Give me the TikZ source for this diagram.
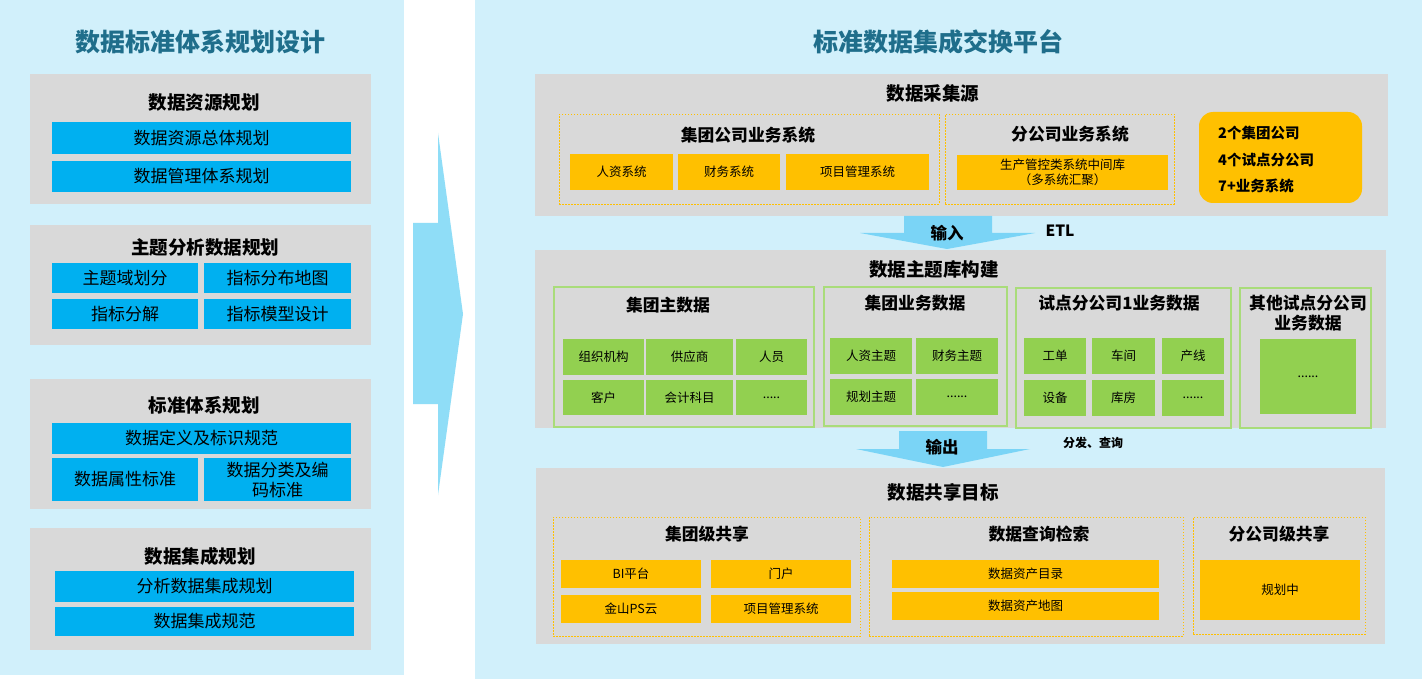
\documentclass[tikz,border=0pt]{standalone}
\usepackage{fontspec}
\setmainfont{Noto Sans CJK SC}
\definecolor{lbg}{HTML}{D1F0FB}
\definecolor{gry}{HTML}{D9D9D9}
\definecolor{bbar}{HTML}{00B0F0}
\definecolor{ylw}{HTML}{FFC000}
\definecolor{grn}{HTML}{92D050}
\definecolor{grnline}{HTML}{A9DC7A}
\definecolor{arr}{HTML}{7AD4F6}
\definecolor{bigarr}{HTML}{8FDDF7}
\definecolor{ttl}{HTML}{1F6E8B}
\newcommand\bx[7]{\node[#1, minimum width={(#5-#3)*1pt}, minimum height={(#6-#4)*1pt}] (#2) at ({(#3+#5)/2},{(#4+#6)/2}) {#7};}
\tikzset{
  cell/.style={inner sep=0pt, align=center, text=black},
  bluebar/.style={cell, fill=bbar, font=\fontsize{17}{20}\selectfont},
  ycell/.style={cell, fill=ylw, font=\fontsize{12.5}{15}\selectfont},
  gcell/.style={cell, fill=grn, font=\fontsize{12.5}{15}\selectfont},
  graybox/.style={cell, fill=gry},
  panelbox/.style={cell, fill=lbg},
  dbox/.style={cell, draw=ylw, dash pattern=on 1.5pt off 1.5pt, line width=0.8pt},
  gbox/.style={cell, draw=grnline, line width=1.2pt},
  secttitle/.style={font=\bfseries\fontsize{18.5}{22}\selectfont, inner sep=0pt, align=center},
  subtitle/.style={font=\bfseries\fontsize{16.8}{20}\selectfont, inner sep=0pt, align=center},
  bigtitle/.style={font=\bfseries\fontsize{25}{29}\selectfont, text=ttl, inner sep=0pt},
  arrowshape/.style={fill=arr, draw=none},
  stattext/.style={anchor=west, inner sep=0pt, font=\bfseries\fontsize{14.5}{17}\selectfont},
}
\begin{document}
\begin{tikzpicture}[x=1pt,y=-1pt]
\useasboundingbox (0,0) rectangle (1422,679);
\fill[white] (0,0) rectangle (1422,679);
% panels
\bx{panelbox}{leftpanel}{0}{0}{404}{675}{}
\bx{panelbox}{rightpanel}{475}{0}{1422}{679}{}
% big arrow
\fill[bigarr] (413,223) -- (438,223) -- (438,133) -- (463,314) -- (438,495) -- (438,404) -- (413,404) -- cycle;
% titles
\node[bigtitle] (ltitle) at (200,42) {数据标准体系规划设计};
\node[bigtitle] (rtitle) at (938,42) {标准数据集成交换平台};
% ---------- left ----------
\bx{graybox}{lb1}{30}{74}{371}{204}{}
\node[secttitle] (lb1t) at (204,103) {数据资源规划};
\bx{bluebar}{lb1a}{52}{122}{351}{154}{数据资源总体规划}
\bx{bluebar}{lb1b}{52}{161}{351}{192}{数据管理体系规划}

\bx{graybox}{lb2}{30}{225}{371}{345}{}
\node[secttitle] (lb2t) at (205,247) {主题分析数据规划};
\bx{bluebar}{lb2a}{52}{263}{198}{293}{主题域划分}
\bx{bluebar}{lb2b}{204}{263}{351}{293}{指标分布地图}
\bx{bluebar}{lb2c}{52}{299}{198}{329}{指标分解}
\bx{bluebar}{lb2d}{204}{299}{351}{329}{指标模型设计}

\bx{graybox}{lb3}{30}{379}{371}{509}{}
\node[secttitle] (lb3t) at (204,405) {标准体系规划};
\bx{bluebar}{lb3a}{52}{423}{351}{454}{数据定义及标识规范}
\bx{bluebar}{lb3b}{52}{458}{198}{501}{数据属性标准}
\bx{bluebar}{lb3c}{204}{458}{351}{501}{数据分类及编\\码标准}

\bx{graybox}{lb4}{30}{528}{371}{650}{}
\node[secttitle] (lb4t) at (200,556) {数据集成规划};
\bx{bluebar}{lb4a}{55}{571}{354}{602}{分析数据集成规划}
\bx{bluebar}{lb4b}{55}{607}{354}{636}{数据集成规范}
% ---------- right: section 1 ----------
\bx{graybox}{s1}{535}{74}{1388}{216}{}
\node[secttitle] (s1t) at (933,93) {数据采集源};
\bx{dbox}{s1a}{559}{114}{939}{204}{}
\node[subtitle] (s1at) at (748,135) {集团公司业务系统};
\bx{ycell}{s1a1}{570}{154}{673}{190}{人资系统}
\bx{ycell}{s1a2}{678}{154}{780}{190}{财务系统}
\bx{ycell}{s1a3}{786}{154}{929}{190}{项目管理系统}
\bx{dbox}{s1b}{945}{114}{1174}{204}{}
\node[subtitle] (s1bt) at (1070,134) {分公司业务系统};
\bx{ycell}{s1b1}{957}{155}{1168}{190}{生产管控类系统中间库\\（多系统汇聚）}
\node[fill=ylw, rounded corners=14pt, minimum width=163pt, minimum height=91pt, inner sep=0pt] (stats) at (1280.5,157.5) {};
\node[stattext] (st1) at (1218,133) {2个集团公司};
\node[stattext] (st2) at (1218,160) {4个试点分公司};
\node[stattext] (st3) at (1218,186) {7+业务系统};
% input arrow
\fill[arrowshape] (904,216) -- (992,216) -- (992,233) -- (1035,233) -- (947,249) -- (860,233) -- (904,233) -- cycle;
\node[font=\bfseries\fontsize{16.5}{19}\selectfont, inner sep=0pt] (inlbl) at (947,233) {输入};
\node[font=\bfseries\fontsize{15.5}{18}\selectfont, inner sep=0pt] (etl) at (1060,231) {ETL};
% ---------- section 2 ----------
\bx{graybox}{s2}{535}{250}{1386}{428}{}
\node[secttitle] (s2t) at (934,269) {数据主题库构建};
\bx{gbox}{g1}{554}{287}{814}{427}{}
\node[subtitle] (g1t) at (668,305) {集团主数据};
\bx{gcell}{g11}{563}{339}{644}{375}{组织机构}
\bx{gcell}{g12}{646}{339}{733}{375}{供应商}
\bx{gcell}{g13}{736}{339}{807}{375}{人员}
\bx{gcell}{g14}{563}{380}{644}{415}{客户}
\bx{gcell}{g15}{646}{380}{733}{415}{会计科目}
\bx{gcell}{g16}{736}{380}{807}{415}{.....}
\bx{gbox}{g2}{824}{287}{1007}{426}{}
\node[subtitle] (g2t) at (915,303) {集团业务数据};
\bx{gcell}{g21}{830}{338}{912}{374}{人资主题}
\bx{gcell}{g22}{916}{338}{998}{374}{财务主题}
\bx{gcell}{g23}{830}{379}{912}{415}{规划主题}
\bx{gcell}{g24}{916}{379}{998}{415}{......}
\bx{gbox}{g3}{1016}{288}{1231}{428}{}
\node[subtitle] (g3t) at (1119,303) {试点分公司1业务数据};
\bx{gcell}{g31}{1024}{338}{1086}{374}{工单}
\bx{gcell}{g32}{1092}{338}{1155}{374}{车间}
\bx{gcell}{g33}{1162}{338}{1224}{374}{产线}
\bx{gcell}{g34}{1024}{380}{1086}{416}{设备}
\bx{gcell}{g35}{1092}{380}{1155}{416}{库房}
\bx{gcell}{g36}{1162}{380}{1224}{416}{......}
\bx{gbox}{g4}{1240}{288}{1371}{428}{}
\node[subtitle, font=\bfseries\fontsize{16.8}{20}\selectfont] (g4t) at (1308,313) {其他试点分公司\\业务数据};
\bx{gcell}{g41}{1260}{339}{1356}{414}{......}
% output arrow
\fill[arrowshape] (899,431) -- (987,431) -- (987,449) -- (1030,449) -- (943,467) -- (856,449) -- (899,449) -- cycle;
\node[font=\bfseries\fontsize{16.5}{19}\selectfont, inner sep=0pt] (outlbl) at (942,447) {输出};
\node[font=\bfseries\fontsize{12}{14}\selectfont, inner sep=0pt] (dist) at (1093,443) {分发、查询};
% ---------- section 3 ----------
\bx{graybox}{s3}{536}{468}{1385}{644}{}
\node[secttitle] (s3t) at (943,492) {数据共享目标};
\bx{dbox}{d1}{553}{517}{860}{636}{}
\node[subtitle] (d1t) at (707,534) {集团级共享};
\bx{ycell}{d11}{561}{560}{701}{588}{BI平台}
\bx{ycell}{d12}{711}{560}{851}{588}{门户}
\bx{ycell}{d13}{561}{595}{701}{623}{金山PS云}
\bx{ycell}{d14}{711}{595}{851}{623}{项目管理系统}
\bx{dbox}{d2}{869}{517}{1183}{636}{}
\node[subtitle] (d2t) at (1039,534) {数据查询检索};
\bx{ycell}{d21}{892}{560}{1159}{588}{数据资产目录}
\bx{ycell}{d22}{892}{592}{1159}{620}{数据资产地图}
\bx{dbox}{d3}{1193}{517}{1365}{634}{}
\node[subtitle] (d3t) at (1279,534) {分公司级共享};
\bx{ycell}{d31}{1200}{560}{1360}{620}{规划中}
\end{tikzpicture}
\end{document}
